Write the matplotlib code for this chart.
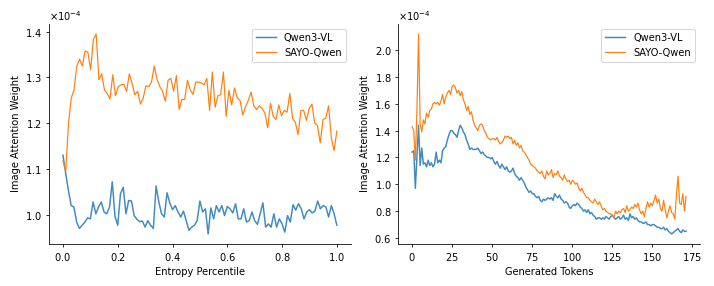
import numpy as np
import matplotlib
matplotlib.use("Agg")
import matplotlib.pyplot as plt

plt.rcParams['axes.formatter.use_mathtext'] = True

# gauche : poids d'attention selon le percentile d'entropie (x 1e-4)
qwen_entropie = [1.13, 1.09, 1.053, 1.02, 1.017, 0.984, 0.97, 0.977, 0.984, 0.993,
                 0.991, 1.028, 1.002, 1.017, 1.028, 1.006, 1.002, 1.017, 1.072, 0.996,
                 0.977, 1.046, 1.06, 1.002, 1.031, 1.03, 0.998, 0.99, 0.985, 0.986,
                 0.973, 0.987, 0.977, 0.97, 1.063, 1.028, 1.002, 0.995, 1.048, 1.026,
                 1.011, 1.02, 1.006, 0.995, 1.008, 0.987, 0.966, 0.973, 0.977, 0.987,
                 1.03, 1.006, 1.013, 0.958, 1.015, 0.991, 1.02, 1.006, 1.02, 0.998,
                 1.018, 1.013, 1.004, 1.024, 0.991, 0.991, 1.013, 0.984, 0.987, 1.006,
                 0.987, 0.979, 1.002, 1.026, 0.973, 0.98, 0.973, 1.002, 0.973, 0.991,
                 0.98, 0.962, 0.998, 0.984, 1.022, 1.01, 1.024, 1.013, 0.991, 1.006,
                 1.011, 1.004, 1.008, 1.03, 1.013, 1.02, 1.017, 0.995, 1.02, 1.002,
                 0.977]
sayo_entropie = [1.118, 1.095, 1.20, 1.255, 1.273, 1.325, 1.34, 1.325, 1.358, 1.355,
                 1.317, 1.383, 1.395, 1.295, 1.308, 1.273, 1.265, 1.253, 1.306, 1.26,
                 1.28, 1.284, 1.285, 1.27, 1.308, 1.287, 1.262, 1.27, 1.242, 1.255,
                 1.282, 1.28, 1.29, 1.325, 1.296, 1.28, 1.27, 1.248, 1.294, 1.298,
                 1.27, 1.304, 1.23, 1.252, 1.252, 1.294, 1.273, 1.263, 1.29, 1.29,
                 1.288, 1.284, 1.298, 1.228, 1.312, 1.235, 1.26, 1.262, 1.312, 1.215,
                 1.272, 1.24, 1.277, 1.255, 1.25, 1.218, 1.236, 1.25, 1.268, 1.238,
                 1.23, 1.238, 1.232, 1.222, 1.19, 1.244, 1.215, 1.208, 1.24, 1.216,
                 1.228, 1.224, 1.265, 1.21, 1.202, 1.175, 1.228, 1.228, 1.206, 1.232,
                 1.242, 1.20, 1.195, 1.157, 1.208, 1.211, 1.238, 1.168, 1.14, 1.183]

# droite : poids d'attention selon les tokens generes (x 1e-4)
qwen_tokens = [1.24, 1.25, 0.97, 1.21, 1.44, 1.14, 1.27, 1.15, 1.16, 1.13,
               1.18, 1.14, 1.16, 1.13, 1.15, 1.24, 1.16, 1.18, 1.16, 1.25,
               1.27, 1.28, 1.33, 1.37, 1.40, 1.40, 1.38, 1.37, 1.35, 1.40,
               1.44, 1.42, 1.39, 1.37, 1.33, 1.30, 1.26, 1.27, 1.26, 1.26,
               1.26, 1.27, 1.25, 1.23, 1.24, 1.22, 1.21, 1.20, 1.20, 1.19,
               1.20, 1.17, 1.15, 1.17, 1.14, 1.12, 1.15, 1.13, 1.11, 1.13,
               1.10, 1.09, 1.10, 1.12, 1.08, 1.06, 1.05, 1.03, 1.05, 1.03,
               1.01, 0.98, 0.96, 0.94, 0.95, 0.93, 0.93, 0.91, 0.90, 0.91,
               0.88, 0.87, 0.89, 0.88, 0.89, 0.90, 0.89, 0.90, 0.88, 0.93,
               0.91, 0.90, 0.92, 0.89, 0.88, 0.86, 0.87, 0.86, 0.83, 0.82,
               0.84, 0.85, 0.84, 0.86, 0.85, 0.83, 0.82, 0.80, 0.81, 0.79,
               0.81, 0.78, 0.79, 0.77, 0.76, 0.74, 0.75, 0.75, 0.74, 0.75,
               0.74, 0.76, 0.75, 0.74, 0.76, 0.77, 0.75, 0.74, 0.75, 0.76,
               0.74, 0.75, 0.77, 0.74, 0.75, 0.73, 0.78, 0.75, 0.76, 0.74,
               0.75, 0.73, 0.72, 0.72, 0.71, 0.71, 0.72, 0.70, 0.70, 0.69,
               0.70, 0.70, 0.69, 0.68, 0.68, 0.67, 0.67, 0.68, 0.66, 0.67,
               0.65, 0.64, 0.63, 0.64, 0.65, 0.66, 0.67, 0.65, 0.64, 0.66,
               0.65, 0.65]
sayo_tokens = [1.43, 1.40, 1.18, 1.55, 2.12, 1.45, 1.39, 1.48, 1.45, 1.53,
               1.50, 1.55, 1.56, 1.60, 1.61, 1.60, 1.61, 1.59, 1.62, 1.67,
               1.60, 1.65, 1.68, 1.70, 1.67, 1.73, 1.74, 1.72, 1.68, 1.70,
               1.66, 1.69, 1.63, 1.60, 1.55, 1.58, 1.52, 1.54, 1.48, 1.44,
               1.42, 1.40, 1.44, 1.45, 1.44, 1.40, 1.38, 1.35, 1.34, 1.33,
               1.34, 1.34, 1.33, 1.35, 1.32, 1.30, 1.31, 1.33, 1.36, 1.35,
               1.36, 1.34, 1.35, 1.30, 1.33, 1.29, 1.31, 1.27, 1.29, 1.25,
               1.24, 1.22, 1.20, 1.18, 1.15, 1.14, 1.13, 1.12, 1.10, 1.09,
               1.08, 1.10, 1.06, 1.04, 1.10, 1.07, 1.08, 1.11, 1.05, 1.08,
               1.07, 1.10, 1.06, 1.05, 1.03, 1.07, 1.04, 1.02, 1.03, 1.00,
               1.03, 1.02, 1.00, 1.01, 0.97, 0.95, 0.97, 0.94, 0.92, 0.90,
               0.90, 0.88, 0.87, 0.86, 0.89, 0.87, 0.85, 0.87, 0.84, 0.81,
               0.82, 0.80, 0.79, 0.78, 0.78, 0.77, 0.75, 0.80, 0.78, 0.80,
               0.79, 0.81, 0.82, 0.79, 0.84, 0.80, 0.81, 0.83, 0.82, 0.85,
               0.83, 0.86, 0.81, 0.78, 0.80, 0.76, 0.82, 0.87, 0.83, 0.86,
               0.84, 0.88, 0.92, 0.86, 0.89, 0.82, 0.80, 0.88, 0.81, 0.75,
               0.80, 0.84, 0.79, 0.78, 0.74, 0.92, 1.06, 0.86, 0.85, 0.93,
               0.80, 0.91]

# figure 10x4 pouces rendue a 71.4 dpi -> 714x286 px
fig, (ax1, ax2) = plt.subplots(1, 2, figsize=(10, 4.006), dpi=71.4)
fig.subplots_adjust(left=0.069, right=0.98, bottom=0.147, top=0.916, wspace=0.159)

x1 = np.linspace(0, 1, len(qwen_entropie))
x1b = np.linspace(0, 1, len(sayo_entropie))
ax1.plot(x1, np.array(qwen_entropie) * 1e-4, color="#1f77b4", lw=1.5, alpha=0.85, label="Qwen3-VL")
ax1.plot(x1b, np.array(sayo_entropie) * 1e-4, color="#ff7f0e", lw=1.2, label="SAYO-Qwen")
ax1.set_xlabel("Entropy Percentile")

ax2.plot(np.arange(len(qwen_tokens)), np.array(qwen_tokens) * 1e-4, color="#1f77b4", lw=1.5, alpha=0.85, label="Qwen3-VL")
ax2.plot(np.arange(len(sayo_tokens)), np.array(sayo_tokens) * 1e-4, color="#ff7f0e", lw=1.2, label="SAYO-Qwen")
ax2.set_xlabel("Generated Tokens")

for ax in (ax1, ax2):
    ax.ticklabel_format(style="sci", axis="y", scilimits=(0, 0))
    ax.set_ylabel("Image Attention Weight")
    ax.spines["top"].set_visible(False)
    ax.spines["right"].set_visible(False)
    ax.legend(loc="upper right")

plt.savefig("out.png", dpi=71.4)
